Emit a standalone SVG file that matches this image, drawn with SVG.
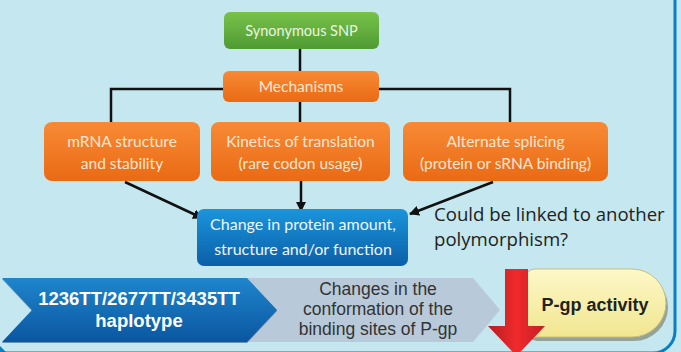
<svg xmlns="http://www.w3.org/2000/svg" width="681" height="352" viewBox="0 0 681 352">
<defs>
<linearGradient id="gGreen" x1="0" y1="0" x2="0" y2="1"><stop offset="0" stop-color="#78c24a"/><stop offset="1" stop-color="#4f9b33"/></linearGradient>
<linearGradient id="gOrange" x1="0" y1="0" x2="0" y2="1"><stop offset="0" stop-color="#f88a35"/><stop offset="1" stop-color="#ea6a14"/></linearGradient>
<linearGradient id="gBlue" x1="0" y1="0" x2="0" y2="1"><stop offset="0" stop-color="#1a95dc"/><stop offset="1" stop-color="#0b5fa8"/></linearGradient>
<linearGradient id="gChev" x1="0" y1="0" x2="0" y2="1"><stop offset="0" stop-color="#1f86cc"/><stop offset="1" stop-color="#0a56a0"/></linearGradient>
<linearGradient id="gRed" x1="0" y1="0" x2="1" y2="0"><stop offset="0" stop-color="#b81c22"/><stop offset="0.5" stop-color="#f02a2c"/><stop offset="1" stop-color="#c41e24"/></linearGradient>
<linearGradient id="gYellow" x1="0" y1="0" x2="0" y2="1"><stop offset="0" stop-color="#fdf8c8"/><stop offset="1" stop-color="#f1e690"/></linearGradient>
<marker id="ah" viewBox="0 0 10 10" refX="9" refY="5" markerWidth="4" markerHeight="4" orient="auto" markerUnits="strokeWidth"><path d="M0,0 L10,5 L0,10 z" fill="#111"/></marker>
<style>
.lbl{font-family:Lato,"Open Sans",sans-serif;fill:#fde6d4;text-anchor:middle;font-size:15.5px}
.line{stroke:#111;stroke-width:2.5;fill:none}
.arr{stroke:#111;stroke-width:2.5;fill:none;marker-end:url(#ah)}
.dark{font-family:"Open Sans",Lato,sans-serif;fill:#222}
.gray{font-family:"Liberation Sans",Arial,sans-serif;fill:#333;font-size:17.500px;text-anchor:middle}
.bold{font-family:"Liberation Sans",Arial,sans-serif;font-weight:bold;text-anchor:middle}
</style>
</defs>
<rect x="0" y="0" width="681" height="352" fill="#c5e7ef"/>
<rect x="-30" y="-30" width="705" height="383" rx="22" fill="none" stroke="#0a7fc4" stroke-width="3"/>
<polygon points="0,346 6,352 0,352" fill="#0a7fc4"/>

<g id="connectors">
<line class="line" x1="300" y1="49" x2="300" y2="72"/>
<polyline class="line" points="111,122 111,89 510,89 510,122"/>
<line class="line" x1="300" y1="102" x2="300" y2="122"/>
<line class="arr" x1="125" y1="182" x2="202" y2="218"/>
<line class="arr" x1="301" y1="181" x2="301" y2="211"/>
<line class="arr" x1="493" y1="182" x2="410" y2="214"/>
</g>

<g id="snp">
<rect x="224" y="12" width="155" height="37" rx="6" fill="url(#gGreen)"/>
<text class="lbl" x="301.500" y="35.500" style="fill:#eaf5e0;font-size:14.500px">Synonymous SNP</text>
</g>
<g id="mechanisms">
<rect x="223" y="71" width="156" height="31" rx="6" fill="url(#gOrange)"/>
<text class="lbl" x="301" y="92">Mechanisms</text>
</g>
<g id="mrna">
<rect x="44" y="122" width="156" height="59" rx="8" fill="url(#gOrange)"/>
<text class="lbl" x="122" y="147">mRNA structure</text>
<text class="lbl" x="122" y="169">and stability</text>
</g>
<g id="kinetics">
<rect x="211" y="122" width="179" height="59" rx="8" fill="url(#gOrange)"/>
<text class="lbl" x="300.500" y="147">Kinetics of translation</text>
<text class="lbl" x="300.500" y="169">(rare codon usage)</text>
</g>
<g id="splicing">
<rect x="403" y="122" width="205" height="59" rx="8" fill="url(#gOrange)"/>
<text class="lbl" x="505.500" y="147">Alternate splicing</text>
<text class="lbl" x="505.500" y="169">(protein or sRNA binding)</text>
</g>
<g id="change">
<rect x="197" y="209" width="211" height="57" rx="7" fill="url(#gBlue)"/>
<text class="lbl" x="303" y="230" style="fill:#eef6fc;font-size:16px">Change in protein amount,</text>
<text class="lbl" x="303" y="255" style="fill:#eef6fc;font-size:16px">structure and/or function</text>
</g>
<g id="note">
<text class="dark" x="434" y="221" font-size="18.600">Could be linked to another</text>
<text class="dark" x="434" y="246" font-size="18.600">polymorphism?</text>
</g>

<g id="conformation">
<polygon points="240,278 473,278 500,310 473,342 240,342" fill="#b8cad9"/>
<text class="gray" x="378" y="295">Changes in the</text>
<text class="gray" x="378" y="315">conformation of the</text>
<text class="gray" x="378" y="335">binding sites of P-gp</text>
</g>
<g id="haplotype">
<polygon points="2,279 247,279 277,311 247,343 2,343 32,311" fill="#0a3f78" opacity="0.5"/>
<polygon points="2,278 247,278 277,310 247,342 2,342 32,310" fill="url(#gChev)"/>
<text class="bold" x="139" y="305" font-size="18.500" fill="#fff">1236TT/2677TT/3435TT</text>
<text class="bold" x="139" y="327" font-size="18.500" fill="#fff">haplotype</text>
</g>
<g id="pgp">
<path d="M535,271 H632 A34,34 0 0 1 632,339 H535 A10,10 0 0 1 525,329 V281 A10,10 0 0 1 535,271 z" fill="#6b6a50" opacity="0.55" transform="translate(2,2)"/>
<path d="M535,269 H632 A34,34 0 0 1 632,337 H535 A10,10 0 0 1 525,327 V279 A10,10 0 0 1 535,269 z" fill="url(#gYellow)" stroke="#c9bf7a" stroke-width="1"/>
<text class="bold" x="595" y="311" font-size="18" fill="#222">P-gp activity</text>
</g>
<g id="down">
<polygon points="505,269 528,269 528,326 545,326 516.500,356 488,326 505,326" fill="url(#gRed)"/>
</g>
</svg>
